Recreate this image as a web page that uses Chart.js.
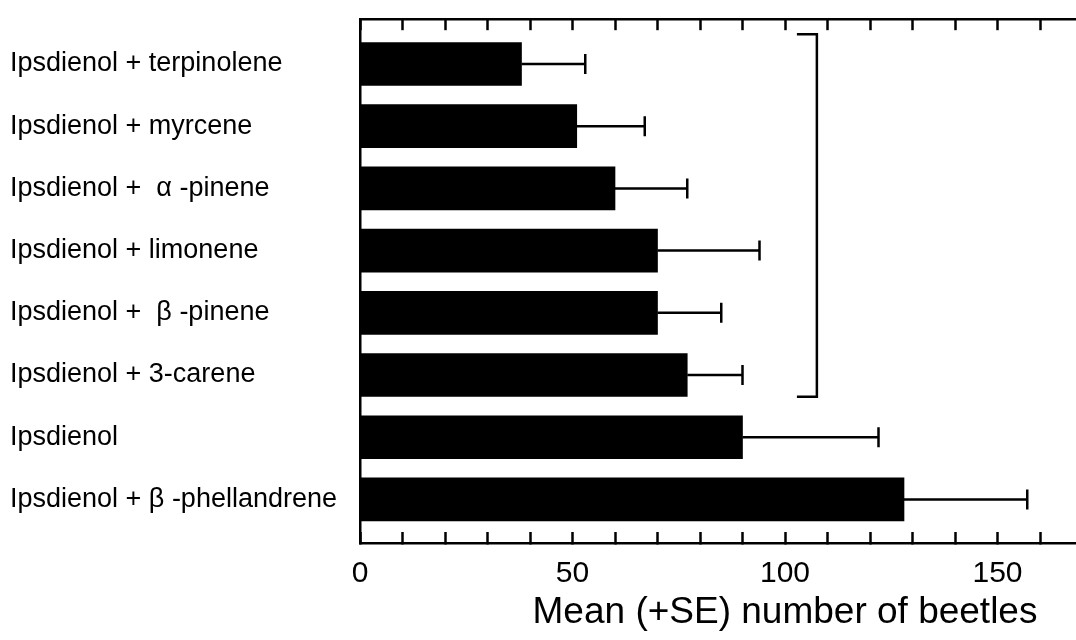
<!DOCTYPE html>
<html>
<head>
<meta charset="utf-8">
<script src="https://cdn.jsdelivr.net/npm/chart.js@4/dist/chart.umd.min.js"></script>
<style>
  html, body { margin: 0; padding: 0; background: #fff; overflow: hidden; }
  #wrap { width: 1076px; height: 640px; overflow: hidden; }
</style>
</head>
<body>
<div id="wrap"><canvas id="c" width="1234" height="640"></canvas></div>
<script>
// Treatments, top to bottom
const categories = [
  'Ipsdienol + terpinolene',
  'Ipsdienol + myrcene',
  'Ipsdienol +  \u03b1 -pinene',
  'Ipsdienol + limonene',
  'Ipsdienol +  \u03b2 -pinene',
  'Ipsdienol + 3-carene',
  'Ipsdienol',
  'Ipsdienol + \u03b2 -phellandrene'
];
// Mean number of beetles caught
const means = [38, 51, 60, 70, 70, 77, 90, 128];
// Standard error (drawn as the upper whisker)
const standardErrors = [15, 16, 17, 24, 15, 13, 32, 29];
// Labelled values on the x axis
const xTickLabels = [0, 50, 100, 150];
const xAxisTitle = 'Mean (+SE) number of beetles';
// Treatments joined by the bracket (first and last index)
const bracketGroup = [0, 5];

const FONT = "'Liberation Sans', Arial, Helvetica, sans-serif";
const INK = '#000';

// Whiskers: a line from the bar end to mean + SE, with a vertical cap
const errorBars = {
  id: 'errorBars',
  afterDatasetsDraw(chart) {
    const ctx = chart.ctx;
    const xs = chart.scales.x, ys = chart.scales.y;
    ctx.save();
    ctx.strokeStyle = INK;
    ctx.lineWidth = 2.5;
    means.forEach((m, i) => {
      const y = ys.getPixelForValue(i);
      const x0 = xs.getPixelForValue(m);
      const x1 = xs.getPixelForValue(m + standardErrors[i]);
      ctx.beginPath();
      ctx.moveTo(x0, y);
      ctx.lineTo(x1, y);
      ctx.moveTo(x1, y - 10);
      ctx.lineTo(x1, y + 10);
      ctx.stroke();
    });
    ctx.restore();
  }
};

// Square bracket grouping the blended treatments
const bracket = {
  id: 'bracket',
  afterDatasetsDraw(chart) {
    const ctx = chart.ctx;
    const xs = chart.scales.x, ys = chart.scales.y;
    const xr = xs.getPixelForValue(107.5);
    const xl = xs.getPixelForValue(102.8);
    const yt = ys.getPixelForValue(bracketGroup[0] - 0.48);
    const yb = ys.getPixelForValue(bracketGroup[1] + 0.35);
    ctx.save();
    ctx.strokeStyle = INK;
    ctx.lineWidth = 2.5;
    ctx.beginPath();
    ctx.moveTo(xl, yt);
    ctx.lineTo(xr, yt);
    ctx.lineTo(xr, yb);
    ctx.lineTo(xl, yb);
    ctx.stroke();
    ctx.restore();
  }
};

const tenSteps = (scale) => {
  const t = [];
  for (let v = 0; v <= scale.max; v += 10) t.push({ value: v });
  scale.ticks = t;
};

new Chart(document.getElementById('c'), {
  type: 'bar',
  data: {
    datasets: [{
      data: means.map((m, i) => ({ x: m, y: i })),
      backgroundColor: INK,
      borderWidth: 0,
      barThickness: 43
    }]
  },
  options: {
    indexAxis: 'y',
    responsive: false,
    animation: false,
    devicePixelRatio: 1,
    layout: { padding: { left: 10, right: 0, top: 15, bottom: 0 } },
    plugins: { legend: { display: false }, tooltip: { enabled: false } },
    scales: {
      y: {
        type: 'linear',
        reverse: true,
        offset: false,
        min: -0.72,
        max: 7.70,
        afterBuildTicks: (scale) => { scale.ticks = categories.map((_, i) => ({ value: i })); },
        afterFit: (scale) => { scale.width = 350; },
        grid: { display: false, drawTicks: false },
        border: { display: true, color: INK, width: 2.5 },
        ticks: {
          crossAlign: 'far',
          autoSkip: false,
          color: INK,
          font: { family: FONT, size: 27 },
          callback: (v) => categories[v]
        }
      },
      x: {
        type: 'linear',
        position: 'bottom',
        min: 0,
        max: 200,
        afterBuildTicks: tenSteps,
        afterFit: (scale) => { scale.height = 97; },
        grid: { drawOnChartArea: false, drawTicks: true, tickLength: -11, tickWidth: 2.5, color: INK },
        border: { display: true, color: INK, width: 2.5 },
        ticks: {
          autoSkip: false,
          maxRotation: 0,
          padding: 24,
          color: INK,
          font: { family: FONT, size: 30 },
          callback: (v) => xTickLabels.includes(v) ? String(v) : ''
        },
        title: {
          display: true,
          text: xAxisTitle,
          color: INK,
          font: { family: FONT, size: 37 },
          padding: { top: 0, bottom: 5 }
        }
      },
      xTop: {
        type: 'linear',
        position: 'top',
        min: 0,
        max: 200,
        afterBuildTicks: tenSteps,
        afterFit: (scale) => { scale.height = 0; },
        grid: { drawOnChartArea: false, drawTicks: true, tickLength: -11, tickWidth: 2.5, color: INK },
        border: { display: true, color: INK, width: 2.5 },
        ticks: { display: false }
      }
    }
  },
  plugins: [errorBars, bracket]
});
</script>
</body>
</html>
